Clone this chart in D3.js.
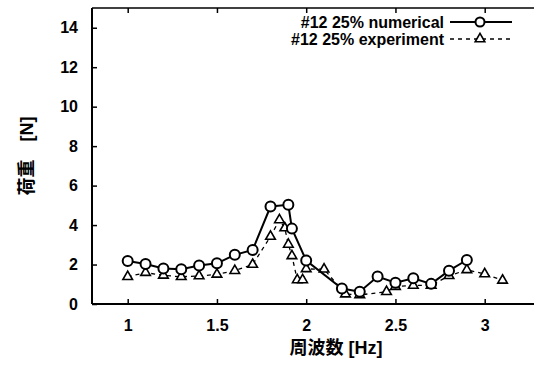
<!DOCTYPE html>
<html>
<head>
<meta charset="utf-8">
<script src="https://cdn.jsdelivr.net/npm/d3@7"></script>
<style>
  html, body { margin: 0; padding: 0; background: #fff; }
  svg { display: block; }
  text { fill: #000; }
</style>
</head>
<body>
<script>
// Load amplitude vs. excitation frequency, model #12 at 25%
const numFreq = [1.0, 1.1, 1.2, 1.3, 1.4, 1.5, 1.6, 1.7, 1.8, 1.9, 1.92, 2.0, 2.2, 2.3, 2.4, 2.5, 2.6, 2.7, 2.8, 2.9];
const numLoad = [2.18, 2.03, 1.8, 1.76, 1.95, 2.06, 2.49, 2.74, 4.94, 5.03, 3.82, 2.2, 0.78, 0.62, 1.39, 1.08, 1.3, 1.02, 1.69, 2.23];

const expFreq = [1.0, 1.1, 1.2, 1.3, 1.4, 1.5, 1.6, 1.7, 1.8, 1.85, 1.88, 1.9, 1.92, 1.95, 1.98, 2.0, 2.1, 2.22, 2.3, 2.45, 2.5, 2.6, 2.7, 2.8, 2.9, 3.0, 3.1];
const expLoad = [1.38, 1.59, 1.45, 1.38, 1.42, 1.5, 1.69, 2.0, 3.42, 4.26, 3.85, 3.02, 2.44, 1.22, 1.22, 1.78, 1.76, 0.5, 0.46, 0.62, 0.88, 0.94, 0.94, 1.43, 1.73, 1.52, 1.2];

const xTicks = [1, 1.5, 2, 2.5, 3];
const yTicks = [0, 2, 4, 6, 8, 10, 12, 14];
const legendLabels = ["#12 25% numerical", "#12 25% experiment"];
const xTitle = "周波数 [Hz]";
const yTitle = "荷重\u3000[N]";

const W = 534, H = 373;
const padLeft = 92, padTop = 8, axisY = 304;

const x = d3.scaleLinear().domain([0.8, 3.3]).range([padLeft, padLeft + 2.5 * 178.5]);
const y = d3.scaleLinear().domain([0, 15]).range([axisY, padTop]);

const svg = d3.select("body").append("svg").attr("width", W).attr("height", H);

const latin = "'Liberation Sans', Arial, sans-serif";
const cjk = "'Liberation Sans', 'Noto Sans CJK JP', sans-serif";

// Frame: left, bottom and top edges
svg.append("line").attr("x1", padLeft).attr("x2", padLeft).attr("y1", padTop).attr("y2", axisY)
  .attr("stroke", "#000").attr("stroke-width", 2);
svg.append("line").attr("x1", padLeft).attr("x2", W).attr("y1", axisY).attr("y2", axisY)
  .attr("stroke", "#000").attr("stroke-width", 2);
svg.append("line").attr("x1", padLeft).attr("x2", W).attr("y1", padTop).attr("y2", padTop)
  .attr("stroke", "#000").attr("stroke-width", 1.5);

// Axes with inward ticks
const xAxis = svg.append("g").attr("transform", `translate(0,${axisY})`)
  .call(d3.axisBottom(x).tickValues(xTicks).tickSize(-5).tickPadding(16).tickFormat(d3.format("")));
const xAxisTop = svg.append("g").attr("transform", `translate(0,${padTop})`)
  .call(d3.axisTop(x).tickValues(xTicks).tickSize(-5).tickFormat(""));
const yAxis = svg.append("g").attr("transform", `translate(${padLeft},0)`)
  .call(d3.axisLeft(y).tickValues(yTicks).tickSize(-5).tickPadding(14));

[xAxis, xAxisTop, yAxis].forEach(g => {
  g.select(".domain").remove();
  g.selectAll(".tick line").attr("stroke", "#000").attr("stroke-width", 1.5);
  g.selectAll("text").attr("font-family", latin).attr("font-size", 16)
    .attr("font-weight", "bold").attr("fill", "#000");
});

// Axis titles
svg.append("text").attr("x", 336).attr("y", 354).attr("text-anchor", "middle")
  .attr("font-family", cjk).attr("font-size", 18).attr("font-weight", "bold").text(xTitle);
svg.append("text").attr("transform", "translate(27,156) rotate(-90)").attr("text-anchor", "middle")
  .attr("dominant-baseline", "central")
  .attr("font-family", cjk).attr("font-size", 18).attr("font-weight", "bold").text(yTitle);

const plot = svg.append("g");

const numPts = numFreq.map((f, i) => [f, numLoad[i]]);
const expPts = expFreq.map((f, i) => [f, expLoad[i]]);
const line = d3.line().x(d => x(d[0])).y(d => y(d[1]));

// Experiment: dashed line with open triangles
plot.append("path").datum(expPts).attr("d", line).attr("fill", "none")
  .attr("stroke", "#000").attr("stroke-width", 1.3).attr("stroke-dasharray", "4,4");
const tri = d3.symbol().type(d3.symbolTriangle).size(40);
plot.selectAll(".tri").data(expPts).join("path").attr("class", "tri")
  .attr("d", tri).attr("transform", d => `translate(${x(d[0])},${y(d[1])})`)
  .attr("fill", "#fff").attr("stroke", "#000").attr("stroke-width", 1.6);

// Numerical: solid line with open circles
plot.append("path").datum(numPts).attr("d", line).attr("fill", "none")
  .attr("stroke", "#000").attr("stroke-width", 2);
plot.selectAll(".circ").data(numPts).join("circle").attr("class", "circ")
  .attr("cx", d => x(d[0])).attr("cy", d => y(d[1])).attr("r", 5)
  .attr("fill", "#fff").attr("stroke", "#000").attr("stroke-width", 2);

// Legend
const lg = svg.append("g");
const rows = [22, 39];
legendLabels.forEach((lab, i) => {
  lg.append("text").attr("x", 444).attr("y", rows[i]).attr("dy", "0.35em")
    .attr("text-anchor", "end").attr("font-family", latin).attr("font-size", 16)
    .attr("font-weight", "bold").text(lab);
});
lg.append("line").attr("x1", 450).attr("x2", 512).attr("y1", rows[0]).attr("y2", rows[0])
  .attr("stroke", "#000").attr("stroke-width", 2);
lg.append("circle").attr("cx", 480).attr("cy", rows[0]).attr("r", 4.5)
  .attr("fill", "#fff").attr("stroke", "#000").attr("stroke-width", 2);
lg.append("line").attr("x1", 450).attr("x2", 512).attr("y1", rows[1]).attr("y2", rows[1])
  .attr("stroke", "#000").attr("stroke-width", 1.3).attr("stroke-dasharray", "4,4");
lg.append("path").attr("d", tri).attr("transform", `translate(480,${rows[1]})`)
  .attr("fill", "#fff").attr("stroke", "#000").attr("stroke-width", 1.6);
</script>
</body>
</html>
